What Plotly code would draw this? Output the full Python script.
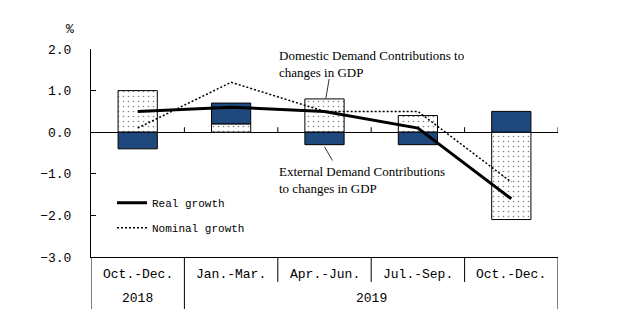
import plotly.graph_objects as go

quarters = ["Oct.-Dec.", "Jan.-Mar.", "Apr.-Jun.", "Jul.-Sep.", "Oct.-Dec. "]
quarter_labels = ["Oct.-Dec.", "Jan.-Mar.", "Apr.-Jun.", "Jul.-Sep.", "Oct.-Dec."]
years = ["2018", "2019"]
domestic = [1.0, 0.2, 0.8, 0.4, -2.1]
external = [-0.4, 0.5, -0.3, -0.3, 0.5]
real_growth = [0.5, 0.6, 0.5, 0.1, -1.6]
nominal_growth = [0.1, 1.2, 0.5, 0.5, -1.2]
y_ticks = [-3, -2, -1, 0, 1, 2]

MONO = "Liberation Mono"
SERIF = "Liberation Serif"
BLUE = "#1F497D"

fig = go.Figure()
fig.add_trace(go.Bar(
    x=quarters, y=domestic, name="Domestic", showlegend=False,
    marker=dict(color="white", line=dict(color="black", width=1),
                pattern=dict(shape=".", fgcolor="black", bgcolor="white",
                             size=5, solidity=0.08)),
))
fig.add_trace(go.Bar(
    x=quarters, y=external, name="External", showlegend=False,
    marker=dict(color=BLUE, line=dict(color="black", width=1)),
))
fig.add_trace(go.Scatter(
    x=quarters, y=real_growth, name="Real growth", mode="lines",
    line=dict(color="black", width=3), legendgroup="a",
))
fig.add_trace(go.Scatter(
    x=quarters, y=nominal_growth, name="Nominal growth", mode="lines",
    line=dict(color="black", width=1.5, dash="2px,2px"), legendgroup="b",
))

shapes = []
# zero line ticks at category boundaries
for i in range(len(quarters)):
    b = i + 0.5
    shapes.append(dict(type="line", xref="x", yref="y", x0=b, x1=b, y0=0, y1=0.12,
                       line=dict(color="black", width=1)))
# table dividers
for i in range(len(quarters) + 1):
    b = i - 0.5
    long_line = b in (-0.5, 0.5, len(quarters) - 0.5)
    shapes.append(dict(type="line", xref="x", yref="paper", x0=b, x1=b, y0=0,
                       y1=-0.25 if long_line else -0.12,
                       line=dict(color="black", width=1)))
# annotation pointers
shapes.append(dict(type="line", xref="x", yref="y", x0=2.05, x1=2.015, y0=1.28, y1=0.82,
                   line=dict(color="black", width=0.8)))
shapes.append(dict(type="line", xref="x", yref="y", x0=2.0, x1=2.085, y0=-0.35, y1=-0.68,
                   line=dict(color="black", width=0.8)))

annotations = []
for q, lab in zip(quarters, quarter_labels):
    annotations.append(dict(x=q, y=-0.082, xref="x", yref="paper", text=lab,
                            xanchor="center", yanchor="middle",
                            showarrow=False, font=dict(family=MONO, size=13, color="black")))
annotations.append(dict(x=0, y=-0.20, xref="x", yref="paper", text=years[0],
                        xanchor="center", yanchor="middle",
                        showarrow=False, font=dict(family=MONO, size=13, color="black")))
annotations.append(dict(x=2.5, y=-0.20, xref="x", yref="paper", text=years[1],
                        xanchor="center", yanchor="middle",
                        showarrow=False, font=dict(family=MONO, size=13, color="black")))
annotations.append(dict(x=-0.045, y=1.096, xref="paper", yref="paper", text="%",
                        xanchor="center", yanchor="middle",
                        showarrow=False, font=dict(family=MONO, size=13, color="black")))
annotations.append(dict(x=0.398, y=1.015, xref="paper", yref="paper", xanchor="left", yanchor="top",
                        align="left", text="Domestic Demand Contributions to<br>changes in GDP",
                        showarrow=False, font=dict(family=SERIF, size=13, color="black")))
annotations.append(dict(x=0.398, y=0.455, xref="paper", yref="paper", xanchor="left", yanchor="top",
                        align="left", text="External Demand Contributions<br>to changes in GDP",
                        showarrow=False, font=dict(family=SERIF, size=13, color="black")))

fig.update_layout(
    width=627, height=327,
    margin=dict(l=91, r=69, t=49, b=70),
    paper_bgcolor="white", plot_bgcolor="white",
    barmode="relative", bargap=0.58,
    shapes=shapes, annotations=annotations,
    legend=dict(x=0.045, y=0.33, xanchor="left", yanchor="top",
                font=dict(family=MONO, size=11, color="black"),
                bgcolor="rgba(0,0,0,0)", tracegroupgap=6, traceorder="grouped"),
    xaxis=dict(range=[-0.5, 4.5], showticklabels=False, ticks="", showgrid=False,
               showline=True, linecolor="black", linewidth=1, zeroline=False),
    yaxis=dict(range=[-3, 2], tickvals=y_ticks, tickformat=".1f", ticks="inside",
               ticklen=5, tickcolor="black", showgrid=False, showline=True,
               linecolor="black", linewidth=1, zeroline=True, zerolinecolor="black",
               zerolinewidth=1, ticklabelstandoff=16,
               tickfont=dict(family=MONO, size=13, color="black")),
)

fig.write_html("out.html")
